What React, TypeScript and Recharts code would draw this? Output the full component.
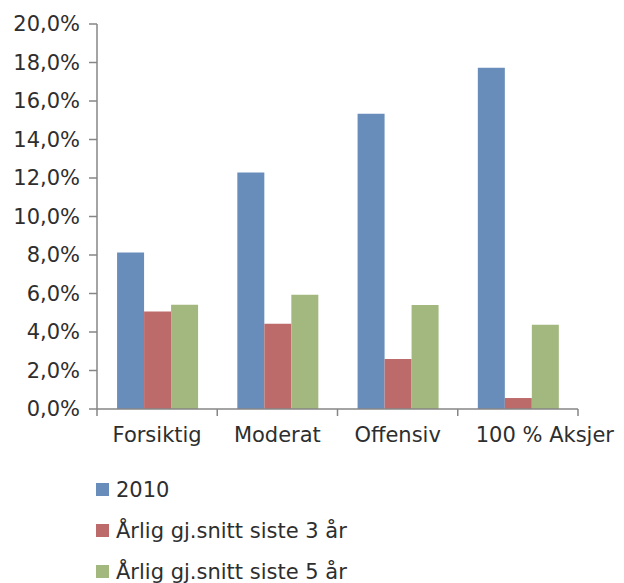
import React from 'react';
import { BarChart, Bar, XAxis, YAxis, Legend } from 'recharts';

// Chart data
const categories = ['Forsiktig', 'Moderat', 'Offensiv', '100 % Aksjer'];
const series2010 = [8.13, 12.28, 15.34, 17.73];
const series3yr = [5.07, 4.43, 2.6, 0.57];
const series5yr = [5.42, 5.94, 5.4, 4.38];
const yTicks = [0, 2, 4, 6, 8, 10, 12, 14, 16, 18, 20];

const seriesNames = ['2010', 'Årlig gj.snitt siste 3 år', 'Årlig gj.snitt siste 5 år'];
const seriesColors = ['#688DBB', '#BD6A6B', '#A2B87E'];

const axisColor = '#868686';
const textColor = '#2e2e2e';
const fontFamily = '"DejaVu Sans", sans-serif';

const data = categories.map((name, i) => ({
  name,
  s2010: series2010[i],
  s3: series3yr[i],
  s5: series5yr[i],
}));

const fmtPct = (v: number) => `${v.toFixed(1).replace('.', ',')}%`;

// category label plus separator tick marks at band edges
const CategoryTick = (props: any) => {
  const { x, y, payload } = props;
  const half = payload.offset || 0;
  const last = payload.index === categories.length - 1;
  // the last label is nudged right so it clears its neighbour, like the original
  return (
    <g>
      <line x1={x - half} x2={x - half} y1={y} y2={y + 7} stroke={axisColor} strokeWidth={1.5} />
      {last && <line x1={x + half} x2={x + half} y1={y} y2={y + 7} stroke={axisColor} strokeWidth={1.5} />}
      <text
        x={last ? x - half + 18 : x}
        y={y + 33}
        textAnchor={last ? 'start' : 'middle'}
        fill={textColor}
        fontSize={21}
        fontFamily={fontFamily}
      >
        {payload.value}
      </text>
    </g>
  );
};

const LegendList = () => (
  <div style={{ paddingTop: 6, paddingLeft: 96, fontFamily, fontSize: 21, color: textColor }}>
    {seriesNames.map((n, i) => (
      <div key={n} style={{ height: 41, display: 'flex', alignItems: 'center' }}>
        <span style={{ display: 'inline-block', width: 13, height: 13, background: seriesColors[i], marginRight: 7 }} />
        <span>{n}</span>
      </div>
    ))}
  </div>
);

export default function App() {
  return (
    <div>
      <style>{'body{margin:0;background:#fff}'}</style>
      <BarChart
        width={624}
        height={583}
        data={data}
        margin={{ top: 24, right: 46, left: 0, bottom: 0 }}
        barCategoryGap="16.7%"
        barGap={0}
      >
        <XAxis
          dataKey="name"
          height={54}
          tickLine={false}
          tickSize={0}
          tickMargin={0}
          interval={0}
          axisLine={{ stroke: axisColor, strokeWidth: 1.5 }}
          tick={<CategoryTick />}
        />
        <YAxis
          width={97}
          domain={[0, 20]}
          ticks={yTicks}
          interval={0}
          tickFormatter={fmtPct}
          tickSize={8}
          tickMargin={9}
          axisLine={{ stroke: axisColor, strokeWidth: 1.5 }}
          tickLine={{ stroke: axisColor, strokeWidth: 1.5 }}
          tick={{ fill: textColor, fontSize: 21, fontFamily }}
        />
        <Legend
          verticalAlign="bottom"
          layout="horizontal"
          align="left"
          wrapperStyle={{ height: 120 }}
          content={<LegendList />}
        />
        <Bar dataKey="s2010" name={seriesNames[0]} fill={seriesColors[0]} isAnimationActive={false} />
        <Bar dataKey="s3" name={seriesNames[1]} fill={seriesColors[1]} isAnimationActive={false} />
        <Bar dataKey="s5" name={seriesNames[2]} fill={seriesColors[2]} isAnimationActive={false} />
      </BarChart>
    </div>
  );
}
